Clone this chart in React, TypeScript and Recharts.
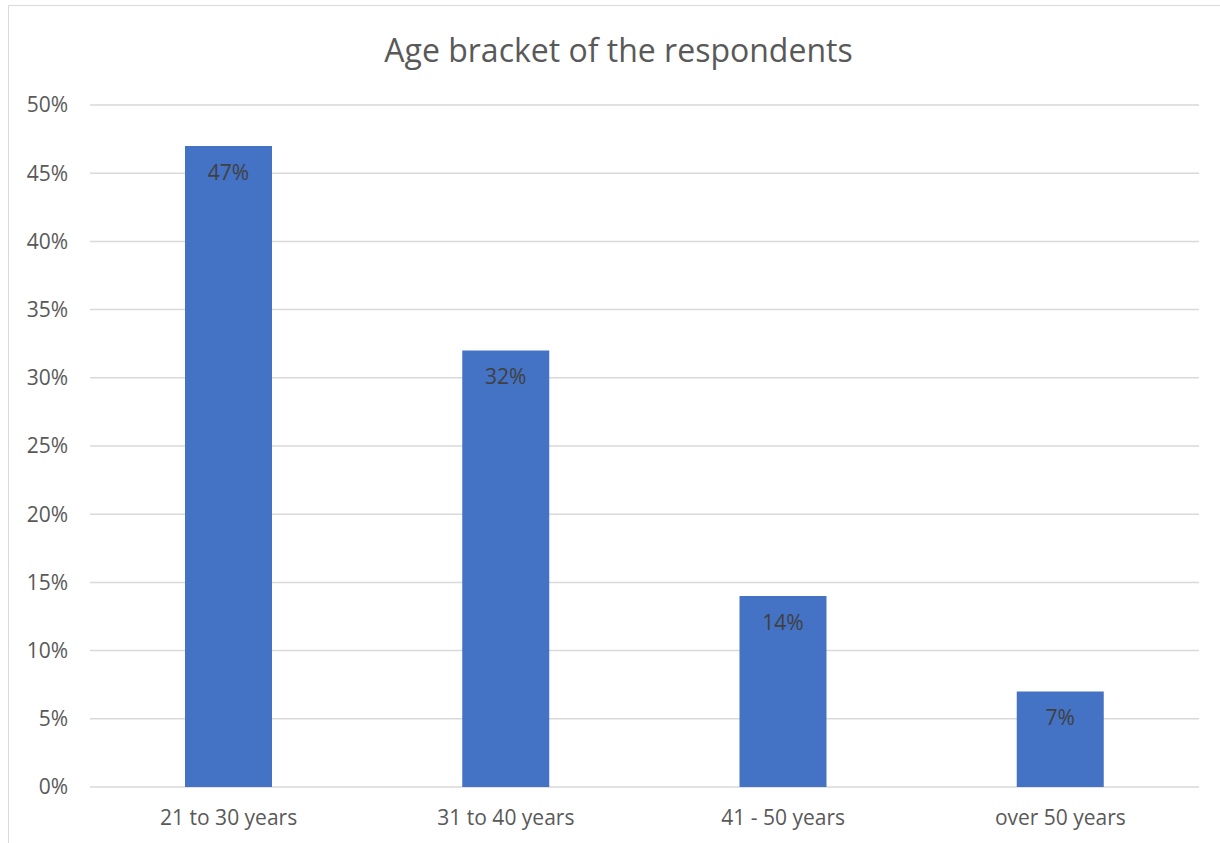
import React from 'react';
import { BarChart, Bar, XAxis, YAxis, CartesianGrid, LabelList } from 'recharts';

const ageBrackets = ['21 to 30 years', '31 to 40 years', '41 - 50 years', 'over 50 years'];
const shares = [47, 32, 14, 7];
const percentTicks = [0, 5, 10, 15, 20, 25, 30, 35, 40, 45, 50];

const data = ageBrackets.map((bracket, i) => ({ bracket, share: shares[i] }));

const FONT = '"Open Sans", "Noto Sans", sans-serif';
const TEXT = '#595959';

const App: React.FC = () => {
  return (
    <div
      style={{
        position: 'absolute',
        left: 8,
        top: 5,
        width: 1230,
        height: 860,
        border: '1px solid #d9d9d9',
        background: '#fff',
        fontFamily: FONT,
      }}
    >
      <div
        style={{
          position: 'absolute',
          left: 0,
          width: 1219,
          top: 22,
          textAlign: 'center',
          fontSize: 32,
          color: TEXT,
        }}
      >
        Age bracket of the respondents
      </div>
      <BarChart
        width={1212}
        height={838}
        data={data}
        margin={{ top: 99, right: 22, left: 0, bottom: 27 }}
        barCategoryGap={0}
      >
        <CartesianGrid vertical={false} stroke="#d9d9d9" strokeWidth={1.5} />
        <XAxis
          dataKey="bracket"
          height={30}
          axisLine={false}
          tickLine={false}
          tickSize={0}
          tickMargin={23}
          tick={{ fontSize: 21, fill: TEXT, fontFamily: FONT }}
        />
        <YAxis
          width={81}
          domain={[0, 50]}
          ticks={percentTicks}
          tickFormatter={(v: number) => `${v}%`}
          axisLine={false}
          tickLine={false}
          tickSize={0}
          tickMargin={22}
          tick={{ fontSize: 21, fill: TEXT, fontFamily: FONT }}
        />
        <Bar dataKey="share" fill="#4472c4" barSize={87} isAnimationActive={false}>
          <LabelList
            dataKey="share"
            position="insideTop"
            offset={19}
            formatter={(v: number) => `${v}%`}
            style={{ fontSize: 21, fill: '#404040', fontFamily: FONT }}
          />
        </Bar>
      </BarChart>
    </div>
  );
};

export default App;
